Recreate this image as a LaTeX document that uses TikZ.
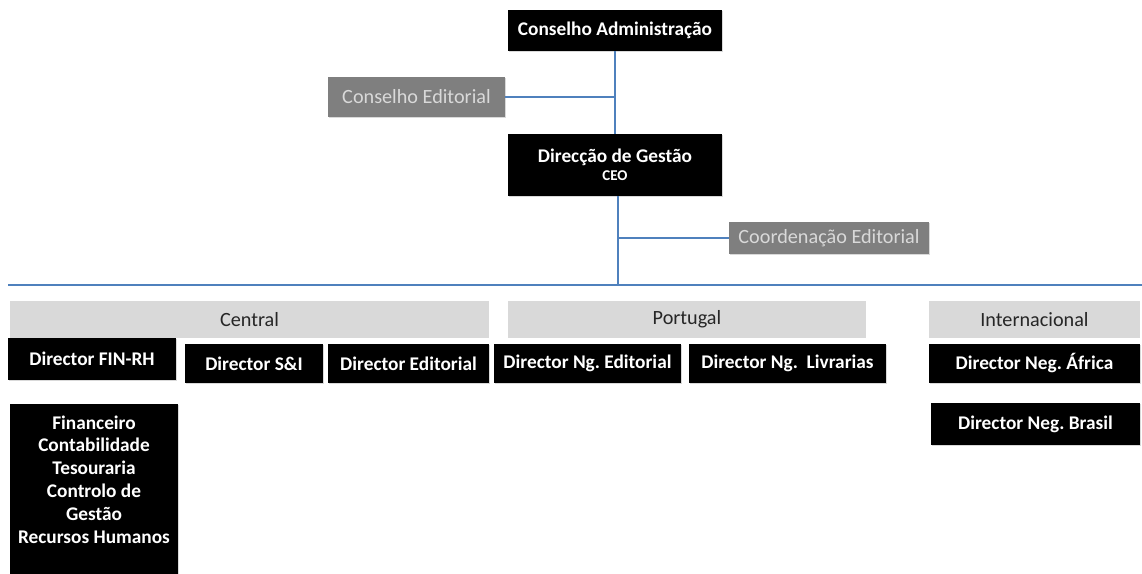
\documentclass[tikz,border=0pt]{standalone}
\usepackage{fontspec}
\setmainfont{Carlito}
\frenchspacing
\usetikzlibrary{calc,shadows}
\definecolor{linkblue}{HTML}{4F81BD}
\definecolor{headgray}{HTML}{D9D9D9}
\definecolor{editgray}{HTML}{7F7F7F}
\tikzset{
	blackbox/.style={fill=black, text=white, font=\bfseries\fontsize{11}{13}\selectfont, align=center, inner sep=0pt,
		drop shadow={opacity=0.3, shadow xshift=0.7pt, shadow yshift=-0.7pt}},
	graybox/.style={fill=editgray, text=white!85!black, font=\fontsize{11.5}{13}\selectfont, inner sep=0pt,
		drop shadow={opacity=0.3, shadow xshift=0.7pt, shadow yshift=-0.7pt}},
	headbox/.style={fill=headgray, text=black!85, font=\fontsize{11.5}{13}\selectfont, inner sep=0pt},
	link/.style={draw=linkblue, line width=0.7pt}
}

\begin{document}
\begin{tikzpicture}[x=0.02cm, y=-0.02cm]
			%%%%% START %%%%%
			\useasboundingbox (0, 0) rectangle (1142, 574);
			
			\node[blackbox, minimum width=4.28cm, minimum height=0.82cm] (adm) at (615, 30.5) {Conselho Administração};
			\node[graybox, minimum width=3.54cm, minimum height=0.80cm] (ced) at (416.5, 97) {Conselho Editorial};
			\node[blackbox, minimum width=4.28cm, minimum height=1.24cm] (ceo) at (615, 165) {Direcção de Gestão\\[-3pt]{\fontsize{8.5}{10}\selectfont CEO}};
			\node[graybox, minimum width=4.00cm, minimum height=0.64cm] (coord) at (829, 238) {Coordenação Editorial};
			
			\draw[link] (adm.south) -- (ceo.north);
			\draw[link] (ced.east) -- (adm.south |- ced.east);
			
			\coordinate (bus) at ($(ceo.south)+(3, 89)$);
			\coordinate (busL) at (8, 285);
			\coordinate (busR) at (1142, 285);
			\draw[link] (ceo.south -| bus) -- (bus);
			\draw[link] (bus |- coord.west) -- (coord.west);
			\draw[link] (busL) -- (busR);
			
			%%%%% AREAS %%%%%
			\node[headbox, minimum width=9.58cm, minimum height=0.74cm] (central) at (249.5, 319.5) {Central};
			\node[headbox, minimum width=7.16cm, minimum height=0.74cm] (portugal) at (687, 319.5) {Portugal};
			\node[headbox, minimum width=4.22cm, minimum height=0.74cm] (intl) at (1034.5, 319.5) {Internacional};
			
			%%%%% DIRECTORS %%%%%
			\node[blackbox, minimum width=3.36cm, minimum height=0.84cm] (finrh) at (92, 359) {Director FIN-RH};
			\node[blackbox, minimum width=2.76cm, minimum height=0.78cm] (si) at (254, 363.5) {Director S\&I};
			\node[blackbox, minimum width=3.22cm, minimum height=0.78cm] (dedit) at (408.5, 363.5) {Director Editorial};
			\node[blackbox, minimum width=3.74cm, minimum height=0.78cm] (ngedit) at (587.5, 363.5) {Director Ng. Editorial};
			\node[blackbox, minimum width=3.94cm, minimum height=0.78cm] (nglivr) at (787.5, 363.5) {Director Ng.\ \ Livrarias};
			\node[blackbox, minimum width=4.22cm, minimum height=0.78cm] (africa) at (1034.5, 363.5) {Director Neg. África};
			\node[blackbox, minimum width=4.18cm, minimum height=0.84cm] (brasil) at (1035.5, 424) {Director Neg. Brasil};
			
			\node[blackbox, minimum width=3.36cm, minimum height=3.40cm] (finlist) at (94, 489)
				{Financeiro\\Contabilidade\\Tesouraria\\Controlo de\\Gestão\\Recursos Humanos\\[-2pt]~};
			
			%%%%% END %%%%%
\end{tikzpicture}
\end{document}
